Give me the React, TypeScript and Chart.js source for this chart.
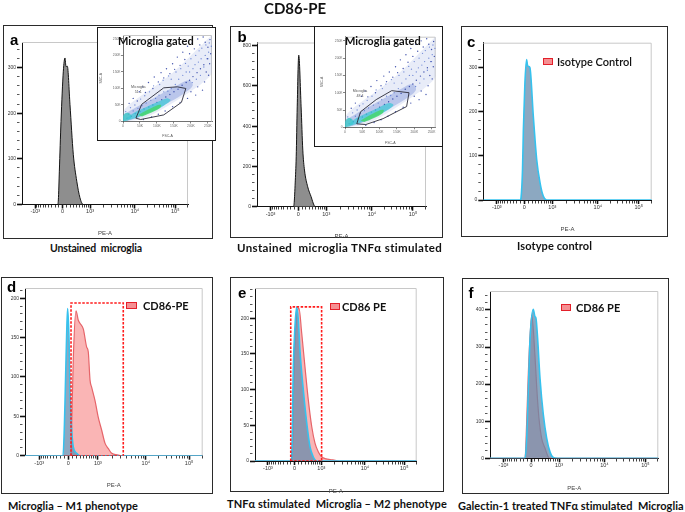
import React, { useEffect, useLayoutEffect, useRef } from 'react';
import { Chart, registerables } from 'chart.js';
Chart.register(...registerables);

// ---------------- data ----------------
// x positions are display channels (0..1000) of the biexponential PE-A axis
const X_MAJOR_CH = [80, 244, 410, 680, 923];
const X_MAJOR_LABELS = ['-10³', '0', '10³', '10⁴', '10⁵'];

// a – unstained microglia
const A_X = [200, 215, 219, 225, 235, 249, 259, 265, 273, 289, 309, 330, 349, 369, 380];
const A_Y = [0, 0, 10, 73, 182, 292, 321, 302, 303, 219, 110, 51, 15, 0, 0];
// b – unstained microglia TNFα stimulated
const B_X = [200, 215, 220, 226, 232, 238, 247, 261, 271, 281, 300, 320, 339, 350];
const B_Y = [0, 0, 20, 118, 248, 496, 753, 496, 281, 182, 99, 50, 5, 0];
// c – isotype control
const C_X = [200, 220, 224, 233, 238, 247, 257, 263, 270, 277, 297, 317, 337, 356, 376, 400];
const C_Y = [0, 0, 5, 70, 160, 265, 319, 305, 303, 300, 190, 92, 39, 9, 0, 0];
// d – M1 phenotype
const D_BLUE_X = [200, 214, 222, 229, 235, 240, 248, 253, 263, 272, 291, 309, 320];
const D_BLUE_Y = [0, 0, 40, 104, 159, 187, 146, 83, 32, 11, 3, 0, 0];
const D_RED_X = [250, 259, 263, 272, 287, 300, 310, 328, 347, 356, 366, 375, 394, 412, 432, 450, 469, 488, 520, 545, 560];
const D_RED_Y = [0, 0, 41, 125, 184, 172, 168, 161, 138, 132, 96, 87, 70, 49, 32, 16, 9, 3, 1, 0, 0];
const D_GATE_X = [259, 259, 553, 553, 259];
const D_GATE_Y = [0, 194, 194, 0, 0];
// e – M2 phenotype
const E_BLUE_X = [200, 222, 227, 237, 247, 258, 268, 278, 299, 320, 340, 360, 382, 400];
const E_BLUE_Y = [0, 0, 3, 132, 188, 216, 197, 155, 99, 53, 20, 6, 0, 0];
const E_RED_X = [200, 225, 230, 240, 250, 262, 272, 289, 309, 330, 351, 371, 391, 412, 440, 464, 495, 520];
const E_RED_Y = [0, 0, 3, 120, 180, 210, 214, 179, 132, 85, 48, 25, 13, 6, 3, 2, 1, 0];
const E_GATE_X = [221, 221, 412, 412, 221];
const E_GATE_Y = [0, 216, 216, 0, 0];
// f – Galectin-1 treated
const F_BLUE_X = [190, 205, 208, 218, 228, 238, 257, 267, 273, 283, 297, 317, 337, 356, 376, 400];
const F_BLUE_Y = [0, 0, 0, 54, 189, 323, 402, 382, 378, 323, 216, 117, 54, 18, 2, 0];
const F_RED_X = [190, 205, 208, 218, 228, 248, 267, 278, 291, 307, 327, 346, 360, 380];
const F_RED_Y = [0, 0, 0, 99, 233, 386, 278, 189, 108, 54, 27, 4, 0, 0];

// inset dot plots (FSC-A / SSC-A, in thousands)
const INSET_TICKS = [0, 50, 100, 150, 200, 250];
const GATE_A_X = [38, 55, 120, 160, 185, 172, 120, 52, 38];
const GATE_A_Y = [10, 52, 102, 105, 100, 58, 20, 6, 10];
const GATE_B_X = [34, 45, 90, 135, 185, 178, 110, 60, 34];
const GATE_B_Y = [10, 45, 80, 106, 100, 60, 25, 8, 10];
const HAZE_X = [0, 0, 15, 45, 85, 125, 165, 205, 240, 262, 262, 235, 200, 160, 120, 80, 40];
const HAZE_Y = [0, 28, 48, 72, 100, 130, 165, 205, 240, 262, 150, 118, 92, 65, 40, 18, 4];
const MID_X = [2, 4, 30, 70, 115, 160, 195, 205, 175, 130, 85, 45, 15];
const MID_Y = [2, 20, 38, 60, 85, 110, 125, 108, 82, 55, 30, 12, 2];
const CYAN_X = [10, 30, 60, 95, 128, 140, 120, 85, 50, 20];
const CYAN_Y = [8, 25, 40, 56, 70, 64, 48, 30, 15, 5];
const GREEN_X = [45, 70, 98, 112, 108, 84, 56];
const GREEN_Y = [20, 34, 48, 50, 40, 27, 15];
const BLOB_X = [0, 0, 8, 20, 24, 14];
const BLOB_Y = [0, 16, 26, 24, 12, 3];
const DOT_X = [18, 30, 42, 48, 58, 66, 75, 88, 92, 104, 112, 120, 128, 138, 146, 152, 160, 168, 176, 182, 190, 196, 204, 210, 220, 226, 236, 242, 250, 256, 258, 248, 238, 228, 218, 206, 196, 186, 174, 162, 150, 138, 126, 114, 100, 88, 76, 62, 50, 36, 24, 12, 200, 220, 240, 252, 234, 214, 190, 168, 146, 124, 104, 84, 60, 255, 245];
const DOT_Y = [55, 70, 62, 90, 105, 88, 118, 100, 135, 120, 148, 132, 160, 145, 175, 158, 195, 170, 210, 188, 228, 205, 240, 220, 250, 232, 256, 240, 225, 248, 205, 190, 172, 160, 148, 136, 125, 118, 110, 98, 90, 82, 74, 66, 58, 50, 44, 38, 30, 24, 16, 10, 90, 105, 120, 140, 95, 80, 70, 58, 45, 32, 22, 14, 6, 175, 150];
const DOT2_X = [8, 22, 35, 52, 64, 78, 90, 108, 118, 134, 142, 156, 170, 184, 192, 200, 214, 224, 232, 244, 254, 260, 252, 242, 230, 222, 212, 206, 196, 186, 176, 164, 154, 142, 132, 120, 106, 96, 82, 68, 56, 44, 30, 16, 228, 216, 204, 250, 238];
const DOT2_Y = [30, 42, 50, 68, 78, 90, 108, 112, 125, 138, 128, 150, 160, 176, 168, 190, 200, 214, 222, 232, 238, 228, 210, 200, 190, 180, 172, 160, 150, 150, 140, 128, 112, 100, 92, 90, 80, 70, 64, 56, 48, 40, 32, 22, 140, 128, 118, 190, 165];

// ---------------- helpers ----------------
const zip = (xs: number[], ys: number[]) => xs.map((x, i) => ({ x, y: ys[i] }));
const histPts = (xs: number[], ys: number[]) => [{ x: 0, y: 0 }, ...zip(xs, ys), { x: 1000, y: 0 }];

function xTickValues(): number[] {
  const out: number[] = [...X_MAJOR_CH];
  const w = 474;
  const k = Math.asinh(1000 / w);
  for (let v = 100; v < 1000; v += 100) {
    out.push(244 + (166 * Math.asinh(v / w)) / k);
    out.push(244 - (164 * Math.asinh(v / w)) / k);
  }
  for (let m = 2; m <= 9; m++) {
    out.push(410 + 270 * Math.log10(m));
    out.push(680 + 243 * Math.log10(m));
  }
  out.push(923 + 243 * Math.log10(2));
  return out.sort((a, b) => a - b);
}
const X_TICKS = xTickValues();
const isMajorX = (v: number) => X_MAJOR_CH.includes(v);

const framePlugin = {
  id: 'frame',
  beforeDatasetsDraw(chart: any) {
    const { ctx, chartArea } = chart;
    const { left, top, right, bottom } = chartArea;
    ctx.save();
    ctx.strokeStyle = '#c8c8c8';
    ctx.lineWidth = 1;
    ctx.beginPath();
    ctx.moveTo(left, top + 0.5);
    ctx.lineTo(right - 0.5, top + 0.5);
    ctx.lineTo(right - 0.5, bottom);
    ctx.stroke();
    ctx.restore();
  },
};

type Panel = { box: number[]; plot: number[]; yMax: number; yStep: number; titleY: number };

const PANELS: Record<string, Panel> = {
  a: { box: [3, 25, 213, 239], plot: [22, 42, 188, 204.5], yMax: 356, yStep: 100, titleY: 233 },
  b: { box: [230, 26, 443, 238], plot: [257, 42.5, 426, 206.7], yMax: 816, yStep: 200, titleY: 236 },
  c: { box: [461, 26, 668, 237], plot: [483.3, 42.7, 651.7, 200], yMax: 357, yStep: 100, titleY: 229 },
  d: { box: [1, 277, 213, 494], plot: [25, 288, 202.7, 455.7], yMax: 213, yStep: 50, titleY: 485 },
  e: { box: [230, 277, 444, 492], plot: [255, 288, 416.7, 461], yMax: 242.5, yStep: 50, titleY: 491 },
  f: { box: [462, 278, 669, 494], plot: [490, 291, 658.3, 458.3], yMax: 451, yStep: 100, titleY: 487.7 },
};

const GRAY = { borderColor: '#151515', borderWidth: 1, backgroundColor: '#8e8e8e' };
const BLUE = { borderColor: '#36c2ee', borderWidth: 1.6, backgroundColor: 'rgba(100,138,172,0.74)' };
const RED = { borderColor: '#e6656a', borderWidth: 1.2, backgroundColor: 'rgba(246,128,128,0.58)' };

function histDs(xs: number[], ys: number[], style: any) {
  return {
    data: histPts(xs, ys),
    ...style,
    fill: 'origin',
    pointRadius: 0,
    cubicInterpolationMode: 'monotone',
  };
}
function gateDs(xs: number[], ys: number[]) {
  return {
    data: zip(xs, ys),
    borderColor: '#ff1c1c',
    borderWidth: 1.6,
    borderDash: [2.5, 1.5],
    fill: false,
    pointRadius: 0,
    tension: 0,
  };
}

function yTicks(p: Panel): number[] {
  const out: number[] = [];
  const minor = p.yStep / 5;
  for (let v = 0; v <= p.yMax + 0.001; v += minor) out.push(Math.round(v * 1000) / 1000);
  return out;
}

function histConfig(p: Panel, datasets: any[]): any {
  const [x0, y0, x1] = p.box;
  const [L, T, R, B] = p.plot;
  const ch = Math.round(p.titleY + 5 - y0);
  return {
    type: 'line',
    data: { datasets },
    options: {
      animation: false,
      responsive: false,
      events: [],
      layout: { padding: { left: 0, top: T - y0, right: x1 - R, bottom: 0 } },
      plugins: { legend: { display: false }, tooltip: { enabled: false } },
      scales: {
        x: {
          type: 'linear',
          min: 0,
          max: 1000,
          afterFit: (s: any) => {
            s.height = ch - (B - y0);
          },
          afterBuildTicks: (s: any) => {
            s.ticks = X_TICKS.map((v) => ({ value: v }));
          },
          ticks: {
            autoSkip: false,
            maxRotation: 0,
            minRotation: 0,
            padding: 0,
            color: '#333',
            font: { family: 'Liberation Sans', size: 5.5 },
            callback: (v: number) => {
              const i = X_MAJOR_CH.indexOf(v);
              return i >= 0 ? X_MAJOR_LABELS[i] : '';
            },
          },
          grid: {
            drawOnChartArea: false,
            tickLength: 4,
            tickColor: '#111',
            tickWidth: (c: any) => (c.tick && isMajorX(c.tick.value) ? 1.6 : 0.8),
            tickBorderDash: (c: any) => (c.tick && isMajorX(c.tick.value) ? [] : [2.5, 20]),
          },
          border: { display: true, color: '#111', width: 1 },
          title: {
            display: true,
            text: 'PE-A',
            color: '#444',
            font: { family: 'Liberation Sans', size: 6 },
            padding: { top: 0, bottom: 1.4 },
          },
        },
        y: {
          min: 0,
          max: p.yMax,
          afterFit: (s: any) => {
            s.width = L - x0;
          },
          afterBuildTicks: (s: any) => {
            s.ticks = yTicks(p).map((v) => ({ value: v }));
          },
          ticks: {
            autoSkip: false,
            padding: 1,
            color: '#333',
            font: { family: 'Liberation Sans', size: 5 },
            callback: (v: number) => (Math.abs(v % p.yStep) < 0.001 ? String(v) : ''),
          },
          grid: {
            drawOnChartArea: false,
            tickLength: 5,
            tickColor: '#111',
            tickWidth: (c: any) => (c.tick && Math.abs(c.tick.value % p.yStep) < 0.001 ? 1.6 : 0.7),
            tickBorderDash: (c: any) => (c.tick && Math.abs(c.tick.value % p.yStep) < 0.001 ? [] : [2.5, 20]),
          },
          border: { display: true, color: '#111', width: 1 },
        },
      },
    },
    plugins: [framePlugin],
  };
}

type InsetSpec = { box: number[]; plot: number[]; gx: number[]; gy: number[]; yPad: number; xPad: number };
const INSETS: Record<string, InsetSpec> = {
  a: { box: [97, 27, 216, 141], plot: [123, 35, 212, 121.5], gx: GATE_A_X, gy: GATE_A_Y, yPad: 1.9, xPad: 2.9 },
  b: { box: [314, 26, 443, 147], plot: [345, 36.7, 435.7, 127.3], gx: GATE_B_X, gy: GATE_B_Y, yPad: 5.9, xPad: 1.9 },
};

function shape(xs: number[], ys: number[], color: string) {
  return {
    data: zip(xs, ys),
    showLine: true,
    borderWidth: 0,
    borderColor: 'rgba(0,0,0,0)',
    backgroundColor: color,
    fill: 'shape',
    tension: 0.35,
    pointRadius: 0,
  };
}
function dots(xs: number[], ys: number[], color: string, r: number) {
  return {
    data: zip(xs, ys),
    showLine: false,
    pointRadius: r,
    pointBorderWidth: 0,
    pointBackgroundColor: color,
  };
}

function insetConfig(s: InsetSpec): any {
  const [x0, y0, x1, y1] = s.box;
  const [L, T, R, B] = s.plot;
  const axisCommon = (title: string, pad: any) => ({
    type: 'linear',
    min: 0,
    max: 262,
    afterBuildTicks: (sc: any) => {
      sc.ticks = INSET_TICKS.map((v) => ({ value: v }));
    },
    ticks: {
      autoSkip: false,
      maxRotation: 0,
      padding: 0.5,
      color: '#666',
      font: { family: 'Liberation Sans', size: 3.3 },
      callback: (v: number) => (v === 0 ? '0' : v + 'K'),
    },
    grid: { drawOnChartArea: false, tickLength: 2, tickColor: '#333', tickWidth: 0.6 },
    border: { display: true, color: '#333', width: 0.7 },
    title: { display: true, text: title, color: '#555', font: { family: 'Liberation Sans', size: 3.5 }, padding: pad },
  });
  return {
    type: 'line',
    data: {
      datasets: [
        {
          data: zip(s.gx, s.gy),
          borderColor: '#2a2a38',
          borderWidth: 0.9,
          fill: false,
          pointRadius: 0,
          tension: 0,
        },
        shape(GREEN_X, GREEN_Y, 'rgba(70,215,110,0.85)'),
        shape(CYAN_X, CYAN_Y, 'rgba(60,200,215,0.7)'),
        shape(BLOB_X, BLOB_Y, 'rgba(60,200,200,0.8)'),
        dots(DOT_X, DOT_Y, 'rgba(35,55,160,0.85)', 0.7),
        dots(DOT2_X, DOT2_Y, 'rgba(80,110,205,0.8)', 0.65),
        shape(MID_X, MID_Y, 'rgba(70,100,200,0.28)'),
        shape(HAZE_X, HAZE_Y, 'rgba(150,170,225,0.22)'),
      ],
    },
    options: {
      animation: false,
      responsive: false,
      events: [],
      layout: { padding: { left: 0, top: T - y0, right: x1 - R, bottom: 0 } },
      plugins: { legend: { display: false }, tooltip: { enabled: false } },
      scales: {
        x: {
          ...axisCommon('FSC-A', { top: 0, bottom: s.xPad }),
          afterFit: (sc: any) => {
            sc.height = y1 - B;
          },
        },
        y: {
          ...axisCommon('SSC-A', { top: s.yPad, bottom: 0 }),
          afterFit: (sc: any) => {
            sc.width = L - x0;
          },
        },
      },
    },
    plugins: [framePlugin],
  };
}

// ---------------- components ----------------
function ChartCanvas({ left, top, width, height, make }: { left: number; top: number; width: number; height: number; make: () => any }) {
  const ref = useRef<HTMLCanvasElement>(null);
  useEffect(() => {
    const chart = new Chart(ref.current as HTMLCanvasElement, make());
    return () => chart.destroy();
  }, []);
  return (
    <canvas
      ref={ref}
      width={width}
      height={height}
      style={{ position: 'absolute', left, top, width, height, display: 'block' }}
    />
  );
}

function HistPanel({ id, datasets }: { id: string; datasets: any[] }) {
  const p = PANELS[id];
  const [x0, y0, x1, y1] = p.box;
  const ch = Math.round(p.titleY + 5 - y0);
  return (
    <>
      <div
        style={{
          position: 'absolute',
          left: x0,
          top: y0,
          width: x1 - x0,
          height: y1 - y0,
          border: '1.5px solid #2b2b2b',
          boxSizing: 'border-box',
        }}
      />
      <ChartCanvas left={x0} top={y0} width={x1 - x0} height={ch} make={() => histConfig(p, datasets)} />
    </>
  );
}

function Inset({ id, pct, lx, ly }: { id: string; pct: string; lx: number; ly: number }) {
  const s = INSETS[id];
  const [x0, y0, x1, y1] = s.box;
  return (
    <>
      <div
        style={{
          position: 'absolute',
          left: x0,
          top: y0,
          width: x1 - x0,
          height: y1 - y0,
          border: '1.5px solid #1a1a1a',
          background: '#fff',
          boxSizing: 'border-box',
        }}
      />
      <ChartCanvas left={x0} top={y0} width={x1 - x0} height={y1 - y0} make={() => insetConfig(s)} />
      <Txt x={lx} y={ly} size={3.6} family="Liberation Sans" color="#555" center>
        Microglia
      </Txt>
      <Txt x={lx} y={ly + 5} size={3.6} family="Liberation Sans" color="#555" center>
        {pct}
      </Txt>
    </>
  );
}

function Txt({
  x,
  y,
  size,
  children,
  bold,
  family = 'Lato',
  color = '#111',
  center,
  weight,
  fit,
}: {
  x: number;
  y: number;
  size: number;
  children: any;
  bold?: boolean;
  family?: string;
  color?: string;
  center?: boolean;
  weight?: number;
  fit?: number;
}) {
  const ref = useRef<HTMLDivElement>(null);
  useLayoutEffect(() => {
    if (!fit || !ref.current) return;
    const el = ref.current;
    el.style.letterSpacing = '0px';
    const w = el.getBoundingClientRect().width;
    const n = (el.textContent || '').length;
    if (n > 1) el.style.letterSpacing = (fit - w) / (n - 1) + 'px';
  }, [fit]);
  return (
    <div
      ref={ref}
      style={{
        position: 'absolute',
        left: x,
        top: y - size / 2,
        transform: center ? 'translateX(-50%)' : undefined,
        fontFamily: family,
        fontSize: size,
        lineHeight: size + 'px',
        fontWeight: weight ?? (bold ? 700 : 400),
        color,
        whiteSpace: 'pre',
      }}
    >
      {children}
    </div>
  );
}

function Letter({ x, base, ch }: { x: number; base: number; ch: string }) {
  const fs = 15;
  return (
    <div
      style={{
        position: 'absolute',
        left: x,
        top: base - 0.8465 * fs,
        fontFamily: 'Liberation Sans',
        fontWeight: 700,
        fontSize: fs,
        lineHeight: fs + 'px',
        color: '#000',
      }}
    >
      {ch}
    </div>
  );
}

function Legend({ bx, by, bw, bh, tx, ty, text, weight }: any) {
  return (
    <>
      <div
        style={{
          position: 'absolute',
          left: bx,
          top: by,
          width: bw,
          height: bh,
          border: '1px solid #e3202a',
          background: '#f58f92',
          boxSizing: 'border-box',
        }}
      />
      <Txt x={tx} y={ty} size={11} weight={weight}>
        {text}
      </Txt>
    </>
  );
}

export default function App() {
  return (
    <div style={{ position: 'fixed', left: 0, top: 0, width: 685, height: 512, background: '#fff', overflow: 'hidden' }}>
      <HistPanel id="a" datasets={[histDs(A_X, A_Y, GRAY)]} />
      <HistPanel id="b" datasets={[histDs(B_X, B_Y, GRAY)]} />
      <HistPanel id="c" datasets={[histDs(C_X, C_Y, BLUE)]} />
      <HistPanel
        id="d"
        datasets={[gateDs(D_GATE_X, D_GATE_Y), histDs(D_BLUE_X, D_BLUE_Y, BLUE), histDs(D_RED_X, D_RED_Y, RED)]}
      />
      <HistPanel
        id="e"
        datasets={[gateDs(E_GATE_X, E_GATE_Y), histDs(E_BLUE_X, E_BLUE_Y, BLUE), histDs(E_RED_X, E_RED_Y, RED)]}
      />
      <HistPanel id="f" datasets={[histDs(F_BLUE_X, F_BLUE_Y, BLUE), histDs(F_RED_X, F_RED_Y, RED)]} />

      <Inset id="a" pct="51.1" lx={138.3} ly={87.7} />
      <Inset id="b" pct="48.4" lx={360} ly={91.7} />
      <Txt x={118} y={40} size={11} bold>
        Microglia gated
      </Txt>
      <Txt x={345} y={40} size={11} bold>
        Microglia gated
      </Txt>

      <Txt x={264} y={8} size={15} bold>
        CD86-PE
      </Txt>

      <Letter x={10} base={45} ch="a" />
      <Letter x={237.5} base={42} ch="b" />
      <Letter x={467} base={47} ch="c" />
      <Letter x={7} base={292} ch="d" />
      <Letter x={238} base={298} ch="e" />
      <Letter x={468.5} base={298} ch="f" />

      <Legend bx={543} by={58} bw={10} bh={7} tx={557} ty={61.5} text="Isotype Control" weight={600} />
      <Legend bx={126} by={302} bw={11} bh={7} tx={143} ty={305.5} text="CD86-PE" weight={700} />
      <Legend bx={330} by={303} bw={9.5} bh={6.5} tx={342} ty={306} text="CD86 PE" weight={700} />
      <Legend bx={561} by={304} bw={10} bh={6.5} tx={576} ty={307} text="CD86 PE" weight={700} />

      <Txt x={50} y={248} size={10.5} bold fit={92}>
        {'Unstained  microglia'}
      </Txt>
      <Txt x={237} y={248} size={11.5} bold fit={205}>
        {'Unstained  microglia TNFα stimulated'}
      </Txt>
      <Txt x={517} y={245} size={11} bold fit={75}>
        {'Isotype control'}
      </Txt>
      <Txt x={8} y={505} size={11} bold fit={130}>
        {'Microglia – M1 phenotype'}
      </Txt>
      <Txt x={227} y={503} size={11} bold fit={220}>
        {'TNFα stimulated  Microglia – M2 phenotype'}
      </Txt>
      <Txt x={458} y={505.5} size={11} bold fit={226}>
        {'Galectin-1 treated TNFα stimulated  Microglia'}
      </Txt>
    </div>
  );
}
